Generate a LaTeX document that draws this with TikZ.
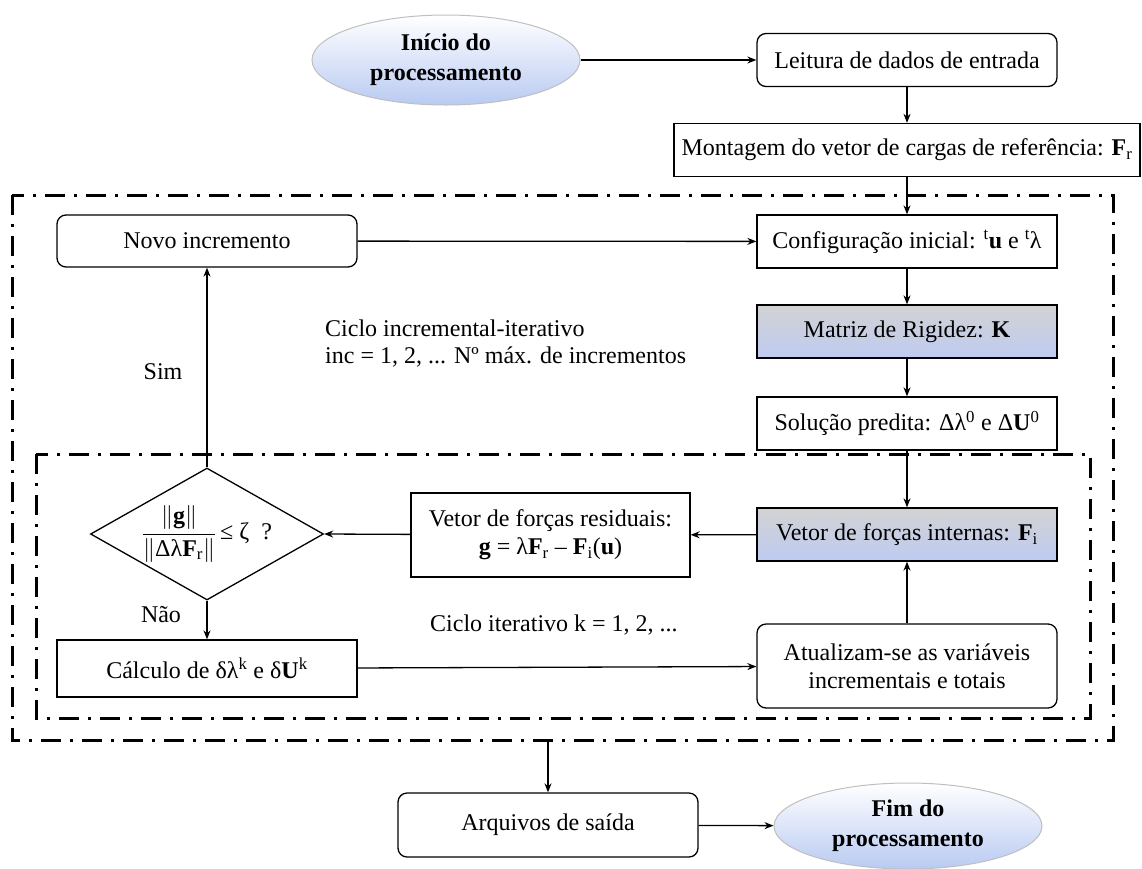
\documentclass[tikz,border=0pt]{standalone}
\usepackage{fix-cm}
\usepackage{fontspec}
\setmainfont{Liberation Serif}
\usetikzlibrary{shapes.geometric,arrows.meta}
\definecolor{lav}{RGB}{190,203,242}
\definecolor{ellb}{RGB}{185,202,242}
\tikzset{
  base/.style={font=\fontsize{24}{28}\selectfont, inner sep=0pt, align=center, line width=1.3pt},
  box/.style={base, draw, rectangle, minimum width=300pt, minimum height=53pt},
  rbox/.style={box, rounded corners=9pt},
  sbox/.style={box, top color=gray!35, middle color=white, bottom color=lav},
  term/.style={base, ellipse, draw=gray!50, line width=1pt, top color=white, bottom color=ellb, minimum width=268pt, minimum height=90pt, font=\fontsize{24}{30}\selectfont\bfseries},
  dec/.style={base, diamond, draw, minimum width=233pt, minimum height=132pt},
  arr/.style={line width=1.3pt, -{Stealth[length=9pt,width=7pt]}},
  frame/.style={line width=3pt, dash pattern=on 20pt off 9pt on 3pt off 9pt},
  lbl/.style={font=\fontsize{24}{27}\selectfont, inner sep=0pt}
}
\begin{document}
\begin{tikzpicture}[x=1pt,y=-1pt]
\useasboundingbox (0,0) rectangle (1142,868);
% frames
\draw[frame] (12,195) rectangle (1113,740);
\draw[frame] (36,454) rectangle (1090,718);
% nodes
\node[term] (start) at (446,60) {Início do\\processamento};
\node[rbox] (leitura) at (907,60) {Leitura de dados de entrada};
\node[box, minimum width=466pt] (montagem) at (907,150) {Montagem do vetor de cargas de referência: \textbf{F}\textsubscript{r}};
\node[box] (config) at (907,241.5) {Configuração inicial: \textsuperscript{t}\textbf{u} e \textsuperscript{t}λ};
\node[sbox] (matriz) at (907,331.5) {Matriz de Rigidez: \textbf{K}};
\node[box] (solucao) at (907,423.5) {Solução predita: Δλ\textsuperscript{0} e Δ\textbf{U}\textsuperscript{0}};
\node[sbox] (internas) at (907,534.5) {Vetor de forças internas: \textbf{F}\textsubscript{i}};
\node[rbox, minimum height=84pt] (atual) at (907,666) {Atualizam-se as variáveis\\incrementais e totais};
\node[box, minimum width=279pt, minimum height=84pt] (resid) at (550.5,535) {Vetor de forças residuais:\\\textbf{g} = λ\textbf{F}\textsubscript{r} – \textbf{F}\textsubscript{i}(\textbf{u})};
\node[dec] (cond) at (207,534) {};
\node[base] (condtxt) at (207,534) {$\displaystyle\frac{\left\|\mbox{\textbf{g}}\right\|}{\left\|\mbox{Δλ\textbf{F}\textsubscript{r}}\right\|}$\,≤ ζ\ \ ?};
\node[rbox, minimum height=52pt] (novo) at (207,241) {Novo incremento};
\node[box, minimum height=57pt] (calc) at (207,668.5) {Cálculo de δλ\textsuperscript{k} e δ\textbf{U}\textsuperscript{k}};
\node[rbox, minimum height=64pt] (arq) at (548,825) {Arquivos de saída};
\node[term, minimum height=86pt] (fim) at (908,826) {Fim do\\processamento};
% labels
\node[lbl, anchor=west, align=left] (ciclo1) at (325,344) {Ciclo incremental-iterativo\\inc = 1, 2, ... Nº máx. de incrementos};
\node[lbl, anchor=west] (ciclo2) at (430,625) {Ciclo iterativo k = 1, 2, ...};
\node[lbl] (sim) at (163,372) {Sim};
\node[lbl] (nao) at (161,615) {Não};
\coordinate (outb) at (548,740);
% connectors
\draw[arr] (start.east |- leitura.west) -- (leitura.west);
\draw[arr] (leitura) -- (montagem);
\draw[arr] (montagem) -- (config);
\draw[arr] (config) -- (matriz);
\draw[arr] (matriz) -- (solucao);
\draw[arr] (solucao) -- (internas);
\draw[arr] (internas) -- (resid);
\draw[arr] (resid) -- (cond.east);
\draw[arr] (cond.south) -- (calc);
\draw[arr] (cond.north) -- (novo);
\draw[arr] (novo) -- (config);
\draw[arr] (calc) -- (atual);
\draw[arr] (atual) -- (internas);
\draw[arr] (outb) -- (arq);
\draw[arr] (arq) -- (fim);
\end{tikzpicture}
\end{document}
